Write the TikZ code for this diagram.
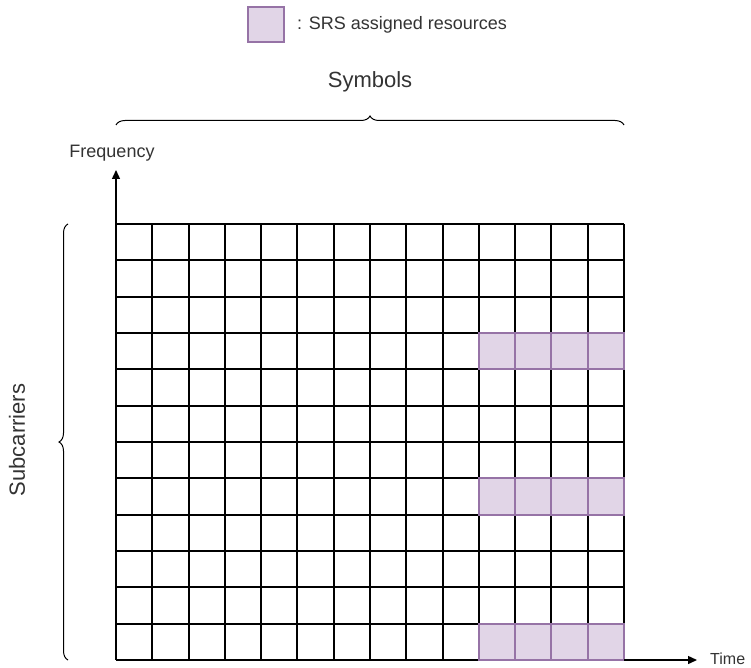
\documentclass[tikz,border=0pt]{standalone}
\usepackage{fontspec}
\setmainfont{Liberation Sans}
\usetikzlibrary{arrows.meta,decorations.pathreplacing}
\definecolor{srsfill}{HTML}{E1D5E7}
\definecolor{srsdraw}{HTML}{9673A6}
\definecolor{txt}{HTML}{333333}
\tikzset{
  gridline/.style={line width=2pt,black},
  srs/.style={fill=srsfill,draw=srsdraw,line width=2pt},
  axis/.style={line width=1.4pt,-{Triangle[length=9pt,width=8pt]}},
  brace/.style={line width=1pt,decorate,decoration={brace,amplitude=9pt}},
  lbl/.style={font=\fontsize{18}{21}\selectfont,text=txt,inner sep=0pt},
  biglbl/.style={font=\fontsize{22}{26}\selectfont,text=txt,inner sep=0pt}
}
\begin{document}
\begin{tikzpicture}[x=1pt,y=-1pt]
\useasboundingbox (0,0) rectangle (751,668);
% legend
\node[srs,minimum width=36pt,minimum height=35pt,inner sep=0pt] (leg) at (265.5,25) {};
\node[lbl,anchor=west] (legtxt) at (297,25) {: SRS assigned resources};
% grid coordinates
\coordinate (g0) at (116,224);
\coordinate (g1) at (624,660);
% srs cells
\foreach \r in {3,7,11}{
  \fill[srsfill] (479,{round(224+\r*36.333)}) rectangle (624,{round(224+(\r+1)*36.333)});
}
% grid lines
\foreach \i in {0,...,14}{
  \draw[gridline] ({round(116+\i*36.286)},224) -- ({round(116+\i*36.286)},660);
}
\foreach \j in {0,...,12}{
  \draw[gridline] (116,{round(224+\j*36.333)}) -- (624,{round(224+\j*36.333)});
}
% srs outlines
\foreach \r in {3,7,11}{
  \foreach \c in {10,...,13}{
    \draw[srsdraw,line width=2pt] ({round(116+\c*36.286)},{round(224+\r*36.333)}) rectangle ({round(116+(\c+1)*36.286)},{round(224+(\r+1)*36.333)});
  }
}
% axes
\coordinate (ftop) at (116,170);
\coordinate (tend) at (697,660);
\draw[axis] (g0) -- (ftop);
\draw[axis] (g1) -- (tend);
\node[lbl] (freq) at (112,153) {Frequency};
\node[lbl,anchor=west,font=\fontsize{16}{19}\selectfont] (time) at (710,659) {Time};
% braces
\coordinate (bl) at (116,125);
\coordinate (br) at (624,125);
\draw[brace] (bl) -- (br);
\node[biglbl] (sym) at (370,82) {Symbols};
\coordinate (lb) at (68,660);
\coordinate (lt) at (68,224);
\draw[brace] (lb) -- (lt);
\node[biglbl,rotate=90] (sub) at (17,440) {Subcarriers};
\end{tikzpicture}
\end{document}
